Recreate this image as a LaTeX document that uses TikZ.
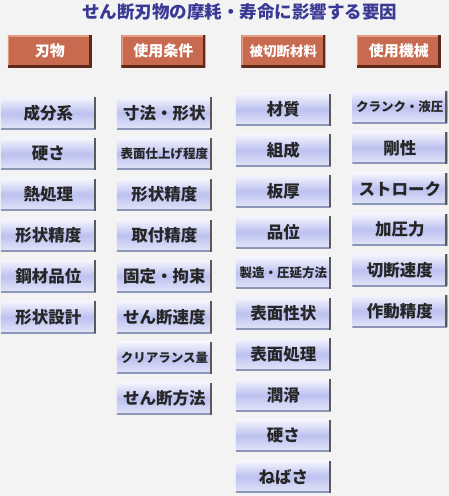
\documentclass[tikz,border=0pt]{standalone}
\usepackage{fontspec}
\usetikzlibrary{positioning}
\newfontfamily\jp{Noto Sans CJK JP}
\definecolor{bgcol}{RGB}{243,243,243}
\definecolor{titlecol}{RGB}{58,58,150}
\definecolor{headred}{RGB}{200,106,80}
\definecolor{headdark}{RGB}{95,40,25}
\definecolor{headlight}{RGB}{228,155,130}
\definecolor{boxtop}{RGB}{244,245,253}
\definecolor{boxmid}{RGB}{188,193,240}
\definecolor{boxbot}{RGB}{228,230,249}
\definecolor{boxedge}{RGB}{140,150,185}
\def\jpsize#1{\fontsize{#1}{#1}\selectfont}

\begin{document}
\begin{tikzpicture}[x=1pt,y=-1pt,node distance=40.8pt,on grid,
  head/.style={fill=headred,text=white,minimum width=84pt,minimum height=32pt,inner sep=0pt,
    font=\jp\bfseries\jpsize{15},
    path picture={
      \draw[line width=3pt,headlight] (path picture bounding box.south west) -- (path picture bounding box.north west) -- (path picture bounding box.north east);
      \draw[line width=5pt,headdark] (path picture bounding box.north east) -- (path picture bounding box.south east) -- (path picture bounding box.south west);}},
  factor/.style={top color=boxtop,bottom color=boxbot,middle color=boxmid,text=black!85,
    minimum width=95pt,minimum height=32pt,inner sep=0pt,
    font=\jp\bfseries\jpsize{16.5},
    path picture={
      \draw[line width=3pt,boxedge] (path picture bounding box.south west) -- (path picture bounding box.south east);
      \draw[line width=4pt,black!65] (path picture bounding box.north east) -- (path picture bounding box.south east);}},
  longtext/.style={font=\jp\bfseries\jpsize{12.5}}]
\fill[bgcol] (0,0) rectangle (449,496);
\node[font=\jp\bfseries\jpsize{17.5},text=titlecol]	(title)	at (240,11.5)	{せん断刃物の摩耗・寿命に影響する要因};

\node[head]				(h_1)	at (50,51)		{刃物};
\node[head]				(h_2)	at (163.5,51)	{使用条件};
\node[head,font=\jp\bfseries\jpsize{13.5}]	(h_3)	at (283.5,51)	{被切断材料};
\node[head]				(h_4)	at (399,51)		{使用機械};

\node[factor]			(a_1)	at (48.5,113)		{成分系};
\node[factor]			(a_2)	[below=of a_1]		{硬さ};
\node[factor]			(a_3)	[below=of a_2]		{熱処理};
\node[factor]			(a_4)	[below=of a_3]		{形状精度};
\node[factor]			(a_5)	[below=of a_4]		{鋼材品位};
\node[factor]			(a_6)	[below=of a_5]		{形状設計};

\node[factor]			(b_1)	at (164.5,113)		{寸法・形状};
\node[factor,longtext]	(b_2)	[below=of b_1]		{表面仕上げ程度};
\node[factor]			(b_3)	[below=of b_2]		{形状精度};
\node[factor]			(b_4)	[below=of b_3]		{取付精度};
\node[factor]			(b_5)	[below=of b_4]		{固定・拘束};
\node[factor]			(b_6)	[below=of b_5]		{せん断速度};
\node[factor,longtext]	(b_7)	[below=of b_6]		{クリアランス量};
\node[factor]			(b_8)	[below=of b_7]		{せん断方法};

\node[factor]			(c_1)	at (283.5,109.5)	{材質};
\node[factor]			(c_2)	[below=of c_1]		{組成};
\node[factor]			(c_3)	[below=of c_2]		{板厚};
\node[factor]			(c_4)	[below=of c_3]		{品位};
\node[factor,longtext]	(c_5)	[below=of c_4]		{製造・圧延方法};
\node[factor]			(c_6)	[below=of c_5]		{表面性状};
\node[factor]			(c_7)	[below=of c_6]		{表面処理};
\node[factor]			(c_8)	[below=of c_7]		{潤滑};
\node[factor]			(c_9)	[below=of c_8]		{硬さ};
\node[factor]			(c_10)	[below=of c_9]		{ねばさ};

\node[factor,longtext]	(d_1)	at (400,107)		{クランク・液圧};
\node[factor]			(d_2)	[below=of d_1]		{剛性};
\node[factor]			(d_3)	[below=of d_2]		{ストローク};
\node[factor]			(d_4)	[below=of d_3]		{加圧力};
\node[factor]			(d_5)	[below=of d_4]		{切断速度};
\node[factor]			(d_6)	[below=of d_5]		{作動精度};
\end{tikzpicture}
\end{document}
